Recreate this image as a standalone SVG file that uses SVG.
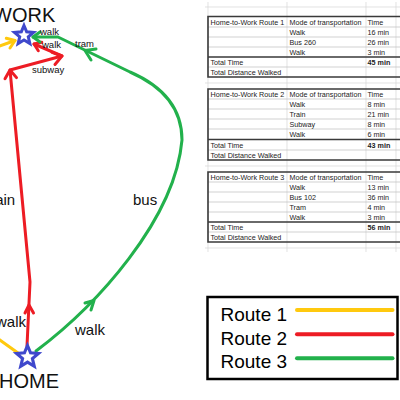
<svg xmlns="http://www.w3.org/2000/svg" width="400" height="400" viewBox="0 0 400 400">
<style>
.r{fill:none;stroke-width:3;stroke-linecap:round;stroke-linejoin:round}
.y{stroke:#ffc90e}.rd{stroke:#ed1c24}.g{stroke:#22b14c}
.lbl{font-family:"Liberation Sans",Arial,sans-serif;fill:#111}
.big{font-size:20px}
.mid{font-size:15px}
.sm{font-size:9.5px}
.t{font-family:"Liberation Sans",Arial,sans-serif;font-size:7.2px;fill:#222}
.b{font-weight:bold}
.grid{stroke:#d6d6d6;stroke-width:0.7;fill:none}
.inner{stroke:#bdbdbd;stroke-width:0.7;fill:none}
.thick{stroke:#3a3a3a;stroke-width:1.6;fill:none}
.star{fill:#fff;stroke:#3f48cc;stroke-width:3;stroke-linejoin:miter}
.leg{font-family:"Liberation Sans",Arial,sans-serif;font-size:19px;fill:#000}
.ll{stroke-width:4;stroke-linecap:round}
</style>
<defs>
<path id="starshape" d="M0,-10 L2.65,-3.64 9.51,-3.09 4.28,1.39 5.88,8.09 0,4.5 -5.88,8.09 -4.28,1.39 -9.51,-3.09 -2.65,-3.64 Z"/>
</defs>
<rect width="400" height="400" fill="#fff"/>

<!-- spreadsheet grid -->
<g id="sheet-grid" class="grid">
<path d="M205,7H400M205,83H400M205,166H400M205,248H400"/>
<path d="M208,2V252M287,2V252M366,2V252M396,2V252"/>
</g>

<g id="table1">
<path class="inner" d="M208,27H402M208,37H402M208,47H402M208,67H402"/>
<path class="thick" d="M402,16.5H208V77H402M208,57H402"/>
<text class="t" x="210.5" y="24.6">Home-to-Work Route 1</text>
<text class="t" x="289.5" y="24.6">Mode of transportation</text>
<text class="t" x="367.5" y="24.6">Time</text>
<text class="t" x="289.5" y="34.6">Walk</text><text class="t" x="367.5" y="34.6">16 min</text>
<text class="t" x="289.5" y="44.6">Bus 260</text><text class="t" x="367.5" y="44.6">26 min</text>
<text class="t" x="289.5" y="54.6">Walk</text><text class="t" x="367.5" y="54.6">3 min</text>
<text class="t" x="210.5" y="64.6">Total Time</text><text class="t b" x="367.5" y="64.6">45 min</text>
<text class="t" x="210.5" y="74.6">Total Distance Walked</text>
</g>

<g id="table2">
<path class="inner" d="M208,99H402M208,109H402M208,119H402M208,129H402M208,150H402"/>
<path class="thick" d="M402,89H208V160H402M208,139.5H402"/>
<text class="t" x="210.5" y="96.6">Home-to-Work Route 2</text>
<text class="t" x="289.5" y="96.6">Mode of transportation</text>
<text class="t" x="367.5" y="96.6">Time</text>
<text class="t" x="289.5" y="106.6">Walk</text><text class="t" x="367.5" y="106.6">8 min</text>
<text class="t" x="289.5" y="116.6">Train</text><text class="t" x="367.5" y="116.6">21 min</text>
<text class="t" x="289.5" y="126.6">Subway</text><text class="t" x="367.5" y="126.6">8 min</text>
<text class="t" x="289.5" y="136.6">Walk</text><text class="t" x="367.5" y="136.6">6 min</text>
<text class="t" x="210.5" y="147.6">Total Time</text><text class="t b" x="367.5" y="147.6">43 min</text>
<text class="t" x="210.5" y="157.6">Total Distance Walked</text>
</g>

<g id="table3">
<path class="inner" d="M208,182H402M208,192H402M208,202H402M208,212H402M208,232H402"/>
<path class="thick" d="M402,172H208V242H402M208,222H402"/>
<text class="t" x="210.5" y="179.6">Home-to-Work Route 3</text>
<text class="t" x="289.5" y="179.6">Mode of transportation</text>
<text class="t" x="367.5" y="179.6">Time</text>
<text class="t" x="289.5" y="189.6">Walk</text><text class="t" x="367.5" y="189.6">13 min</text>
<text class="t" x="289.5" y="199.6">Bus 102</text><text class="t" x="367.5" y="199.6">36 min</text>
<text class="t" x="289.5" y="209.6">Tram</text><text class="t" x="367.5" y="209.6">4 min</text>
<text class="t" x="289.5" y="219.6">Walk</text><text class="t" x="367.5" y="219.6">3 min</text>
<text class="t" x="210.5" y="229.6">Total Time</text><text class="t b" x="367.5" y="229.6">56 min</text>
<text class="t" x="210.5" y="239.6">Total Distance Walked</text>
</g>

<g id="connectors">
<!-- Route 1 (yellow) -->
<path class="r y" d="M-3,47 L15,40.5"/>
<path class="r y" d="M6.3,38.3 L15,40.5 L10,48"/>
<path class="r y" d="M-3,338 L18,353"/>
<!-- Route 2 (red) -->
<path class="r rd" d="M27,346 L30,282 L10,70 L62,56 L34,44"/>
<path class="r rd" d="M25,313 L29,305 L33.5,313"/>
<path class="r rd" d="M5,78.7 L10,70 L16.5,77.6"/>
<path class="r rd" d="M52,52.3 L62,56 L55,64.5"/>
<path class="r rd" d="M38.3,50.7 L34,44 L41.8,42.3"/>
<!-- Route 3 (green) -->
<path class="r g" d="M36,351 C96,306 175,220 182,140 C182,105 160,85 130,72 L58,37 L33,37"/>
<path class="r g" d="M85,303 L94,300.5 L91,310"/>
<path class="r g" d="M91,60 L85,50.5 L96,49"/>
<path class="r g" d="M40,32 L33,37 L40,42"/>
<!-- labels -->
<text class="lbl sm" x="40" y="35">walk</text>
<text class="lbl sm" x="42" y="47.5">walk</text>
<text class="lbl sm" x="75" y="46.5">tram</text>
<text class="lbl sm" x="32" y="73">subway</text>
<text class="lbl mid" x="-14" y="204.5">train</text>
<text class="lbl mid" x="133" y="205">bus</text>
<text class="lbl mid" x="-4" y="327">walk</text>
<text class="lbl mid" x="75" y="334.5">walk</text>
</g>

<g id="work">
<use href="#starshape" class="star" transform="translate(24,35.5)"/>
<text class="lbl big" x="-7" y="22">WORK</text>
</g>

<g id="home">
<use href="#starshape" class="star" transform="translate(27.5,357) scale(1.15)" style="stroke-width:2.7"/>
<text class="lbl big" x="-1" y="388">HOME</text>
</g>

<g id="legend">
<rect x="207.5" y="297" width="190" height="82" fill="#fff" stroke="#000" stroke-width="2.5"/>
<text class="leg" x="220.5" y="320.5">Route 1</text>
<text class="leg" x="220.5" y="344.5">Route 2</text>
<text class="leg" x="220.5" y="368">Route 3</text>
<line class="ll" x1="297" y1="310" x2="392.5" y2="310" stroke="#ffc90e"/>
<line class="ll" x1="297" y1="334.3" x2="392.5" y2="334.3" stroke="#ed1c24"/>
<line class="ll" x1="297" y1="358.3" x2="392.5" y2="358.3" stroke="#22b14c"/>
</g>
</svg>
